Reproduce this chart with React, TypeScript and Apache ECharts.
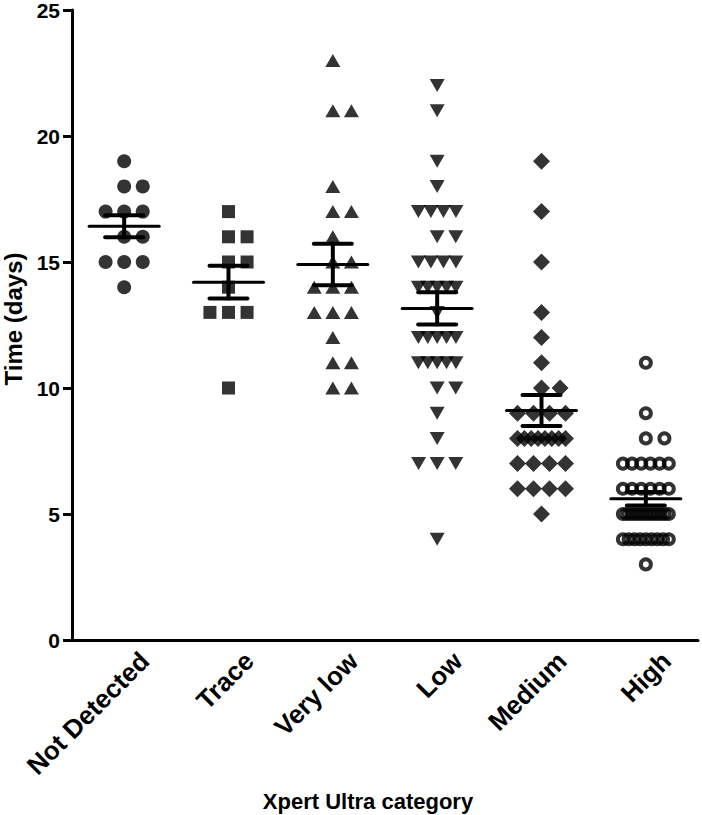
import React, { useEffect, useRef } from "react";
import * as echarts from "echarts";

const categories = ["Not Detected", "Trace", "Very low", "Low", "Medium", "High"];

const notDetected = [19, 18, 18, 17, 17, 17, 16, 16, 15, 15, 15, 14];
const trace = [17, 16, 16, 15, 15, 14, 13, 13, 13, 10];
const veryLow = [23, 21, 21, 18, 17, 17, 16, 15, 15, 14, 14, 14, 13, 13, 13, 12, 11, 11, 10, 10];
const low = [
  22, 21, 19, 18, 17, 17, 17, 17, 16, 16, 15, 15, 15, 15, 14, 14, 14, 14, 14, 13,
  12, 12, 12, 12, 12, 11, 11, 11, 11, 11, 10, 10, 9, 8, 7, 7, 7, 4,
];
const medium = [
  19, 17, 15, 13, 12, 11, 10, 10, 9, 9, 9, 9, 8, 8, 8, 8, 8, 8, 8, 8, 7, 7, 7, 7, 6, 6, 6, 6, 5,
];
const high = [
  11, 9, 8, 8, 7, 7, 7, 7, 7, 7, 6, 6, 6, 6, 6, 6, 5, 5, 5, 5, 5, 5, 5, 5, 5, 5, 5, 5,
  4, 4, 4, 4, 4, 4, 4, 4, 4, 3,
];

const yTicks = [0, 5, 10, 15, 20, 25];

const groups = [notDetected, trace, veryLow, low, medium, high];

// marker styles per group (style only)
const symbols = ["circle", "rect", "triangle", "triangle", "diamond", "circle"];
const symbolSizes: any[] = [14, 13, [15, 13], [15, 13], 17, 10];
const symbolRotates = [0, 0, 0, 180, 0, 0];
const maxHalf = [0.23, 0.23, 0.23, 0.18, 0.23, 0.22];
const SPACING = 0.178;

function layoutGroup(values: number[], gi: number) {
  const counts = new Map<number, number>();
  values.forEach((v) => counts.set(v, (counts.get(v) || 0) + 1));
  const pts: number[][] = [];
  counts.forEach((n, v) => {
    let offs: number[] = [];
    if (n === 1) offs = [0];
    else if (n === 2) offs = [0, SPACING];
    else if (n === 3) offs = [-SPACING, 0, SPACING];
    else {
      const half = Math.min(maxHalf[gi], ((n - 1) / 2) * SPACING);
      for (let k = 0; k < n; k++) offs.push(-half + (2 * half * k) / (n - 1));
    }
    offs.forEach((o) => pts.push([gi + o, v]));
  });
  return pts;
}

function stats(values: number[]) {
  const n = values.length;
  const mean = values.reduce((a, b) => a + b, 0) / n;
  const sd = Math.sqrt(values.reduce((a, b) => a + (b - mean) * (b - mean), 0) / (n - 1));
  const sem = sd / Math.sqrt(n);
  return [mean, mean - sem, mean + sem];
}

export default function App() {
  const ref = useRef<HTMLDivElement>(null);
  useEffect(() => {
    const chart = echarts.init(ref.current!, null, { renderer: "svg" });
    const font = "'Liberation Sans', Arial, sans-serif";
    const scatterSeries = groups.map((g, gi) => ({
      type: "scatter",
      xAxisIndex: 1,
      yAxisIndex: 0,
      symbol: symbols[gi],
      symbolSize: symbolSizes[gi],
      symbolRotate: symbolRotates[gi],
      itemStyle:
        gi === 5
          ? { color: "rgba(0,0,0,0)", borderColor: "#000", borderWidth: 4 }
          : { color: "#000" },
      data: layoutGroup(g, gi),
      z: 2,
    }));
    const errData = groups.map((g, gi) => [gi, ...stats(g)]);
    chart.setOption({
      animation: false,
      grid: {
        left: 72,
        right: 4,
        top: 10,
        bottom: 175,
        containLabel: false,
        outerBoundsMode: "none",
      },
      xAxis: [
        {
          type: "category",
          data: categories,
          boundaryGap: true,
          axisLine: { onZero: false, lineStyle: { color: "#000", width: 3 } },
          axisTick: { alignWithLabel: true, length: 10, lineStyle: { color: "#000", width: 3 } },
          axisLabel: {
            rotate: 45,
            margin: -4,
            verticalAlign: "top",
            padding: [16, 0, 0, 0],
            color: "#000",
            fontWeight: "bold",
            fontSize: 26,
            fontFamily: font,
          },
          name: "Xpert Ultra category",
          nameLocation: "middle",
          nameGap: 150,
          nameTextStyle: {
            color: "#000",
            fontWeight: "bold",
            fontSize: 22,
            fontFamily: font,
            padding: [0, 34, 0, 0],
          },
        },
        { type: "value", min: -0.5, max: 5.5, show: false },
      ],
      yAxis: {
        type: "value",
        min: 0,
        max: 25,
        interval: 5,
        splitLine: { show: false },
        axisLine: { show: true, onZero: false, lineStyle: { color: "#000", width: 3 } },
        axisTick: { show: true, length: 9, lineStyle: { color: "#000", width: 3 } },
        axisLabel: {
          margin: 12,
          color: "#000",
          fontWeight: "bold",
          fontSize: 21,
          lineHeight: 18,
          fontFamily: font,
          formatter: (v: number) => (yTicks.includes(v) ? String(v) : ""),
        },
        name: "Time (days)",
        nameLocation: "middle",
        nameGap: 46,
        nameTextStyle: {
          color: "#000",
          fontWeight: "bold",
          fontSize: 24,
          fontFamily: font,
          padding: [0, 0, 0, 12],
        },
      },
      series: [
        ...scatterSeries,
        {
          type: "custom",
          xAxisIndex: 1,
          yAxisIndex: 0,
          z: 5,
          data: errData,
          encode: { x: 0, y: 1 },
          renderItem: (params: any, api: any) => {
            const x = api.value(0);
            const pm = api.coord([x, api.value(1)]);
            const pl = api.coord([x, api.value(2)]);
            const ph = api.coord([x, api.value(3)]);
            const st = { stroke: "#000", lineWidth: 3, lineCap: "round" };
            return {
              type: "group",
              children: [
                { type: "line", shape: { x1: pm[0] - 35, y1: pm[1], x2: pm[0] + 35, y2: pm[1] }, style: st },
                { type: "line", shape: { x1: pm[0], y1: pl[1], x2: pm[0], y2: ph[1] }, style: { ...st, lineWidth: 4 } },
                { type: "line", shape: { x1: pm[0] - 19, y1: pl[1], x2: pm[0] + 19, y2: pl[1] }, style: { ...st, lineWidth: 4 } },
                { type: "line", shape: { x1: pm[0] - 19, y1: ph[1], x2: pm[0] + 19, y2: ph[1] }, style: { ...st, lineWidth: 4 } },
              ],
            };
          },
        },
      ],
    });
    return () => chart.dispose();
  }, []);
  return (
    <div
      ref={ref}
      style={{ position: "absolute", left: 0, top: 0, width: 702, height: 815, background: "#fff" }}
    />
  );
}
